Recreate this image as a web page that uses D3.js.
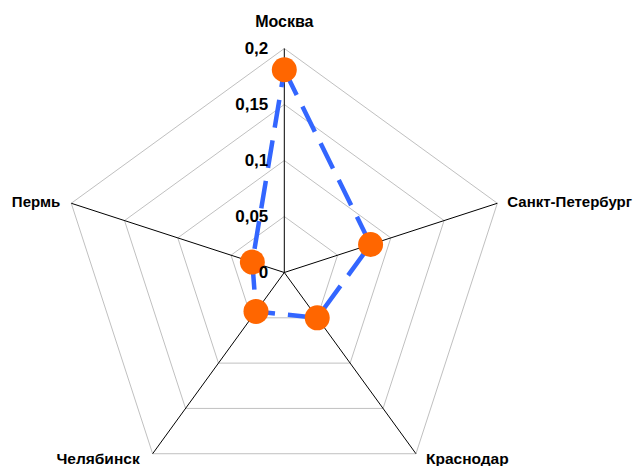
<!DOCTYPE html>
<html>
<head>
<meta charset="utf-8">
<script src="https://cdn.jsdelivr.net/npm/d3@7/dist/d3.min.js"></script>
<style>
  html, body { margin: 0; padding: 0; background: #fff; }
  svg { display: block; }
  text { font-family: "Liberation Sans", Arial, sans-serif; font-weight: bold; fill: #000; }
</style>
</head>
<body>
<svg id="chart" width="638" height="466"></svg>
<script>
const cities = ["Москва", "Санкт-Петербург", "Краснодар", "Челябинск", "Пермь"];
const shares = [0.181, 0.081, 0.050, 0.043, 0.030];
const ticks = [0, 0.05, 0.1, 0.15, 0.2];
const tickLabels = ["0", "0,05", "0,1", "0,15", "0,2"];

const width = 638, height = 466;
const cx = 284.3, cy = 272.5, R = 224;

const svg = d3.select("#chart");
const g = svg.append("g").attr("transform", `translate(${cx},${cy})`);

const r = d3.scaleLinear().domain([0, 0.2]).range([0, R]);
const angle = d3.scaleLinear().domain([0, cities.length]).range([0, 2 * Math.PI]);

const pt = (i, v) => {
  const a = angle(i) - Math.PI / 2;
  return [Math.cos(a) * r(v), Math.sin(a) * r(v)];
};

// concentric pentagon grid
const ring = d3.line().curve(d3.curveLinearClosed);
g.selectAll("path.grid")
  .data(ticks.slice(1))
  .join("path")
  .attr("class", "grid")
  .attr("d", t => ring(cities.map((_, i) => pt(i, t))))
  .attr("fill", "none")
  .attr("stroke", "#c0c0c0")
  .attr("stroke-width", 1);

// spokes
g.selectAll("line.spoke")
  .data(cities)
  .join("line")
  .attr("class", "spoke")
  .attr("x1", 0).attr("y1", 0)
  .attr("x2", (_, i) => pt(i, 0.2)[0])
  .attr("y2", (_, i) => pt(i, 0.2)[1])
  .attr("stroke", "#000")
  .attr("stroke-width", 1);

// category labels
const labelPos = [
  { dx: 0, dy: -21.5, anchor: "middle", size: 16 },
  { dx: 10, dy: 4, anchor: "start", size: 15 },
  { dx: 10, dy: 10.5, anchor: "start", size: 15.5 },
  { dx: -13, dy: 10.5, anchor: "end", size: 15.5 },
  { dx: -11, dy: 4, anchor: "end", size: 15 }
];
g.selectAll("text.cat")
  .data(cities)
  .join("text")
  .attr("class", "cat")
  .attr("x", (_, i) => pt(i, 0.2)[0] + labelPos[i].dx)
  .attr("y", (_, i) => pt(i, 0.2)[1] + labelPos[i].dy)
  .attr("text-anchor", (_, i) => labelPos[i].anchor)
  .attr("font-size", (_, i) => labelPos[i].size)
  .text(d => d);

// data polygon
g.append("path")
  .attr("d", ring(shares.map((v, i) => pt(i, v))))
  .attr("fill", "none")
  .attr("stroke", "#3366ff")
  .attr("stroke-width", 4.5)
  .attr("stroke-dasharray", "28,13");

// markers
g.selectAll("circle.pt")
  .data(shares)
  .join("circle")
  .attr("class", "pt")
  .attr("cx", (v, i) => pt(i, v)[0])
  .attr("cy", (v, i) => pt(i, v)[1])
  .attr("r", 12.5)
  .attr("fill", "#ff6600");

// radial tick labels along the top spoke, drawn above the series
g.selectAll("text.tick")
  .data(ticks)
  .join("text")
  .attr("class", "tick")
  .attr("x", -16)
  .attr("y", t => -r(t) + 5)
  .attr("text-anchor", "end")
  .attr("font-size", 17)
  .text((_, i) => tickLabels[i]);
</script>
</body>
</html>
